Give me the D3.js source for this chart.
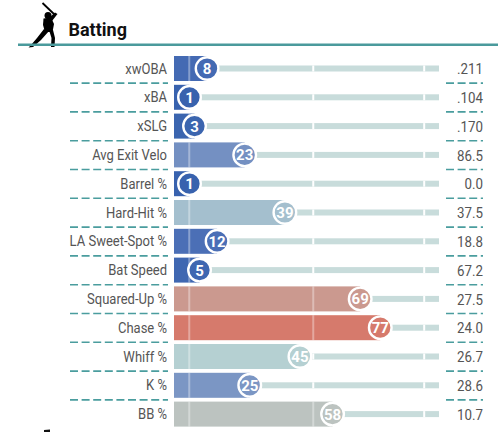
<!DOCTYPE html>
<html>
<head>
<meta charset="utf-8">
<script src="https://cdn.jsdelivr.net/npm/d3@7"></script>
<style>
  body { margin: 0; background: #fff; }
  svg { display: block; font-family: Roboto, "Noto Sans", sans-serif; }
</style>
</head>
<body>
<svg id="chart" width="498" height="432"></svg>
<script>
// stat names, percentile ranks and raw values (top to bottom)
var labels = ['xwOBA', 'xBA', 'xSLG', 'Avg Exit Velo', 'Barrel %', 'Hard-Hit %',
    'LA Sweet-Spot %', 'Bat Speed', 'Squared-Up %', 'Chase %', 'Whiff %', 'K %', 'BB %'];
var percentiles = [8, 1, 3, 23, 1, 39, 12, 5, 69, 77, 45, 25, 58];
var values = ['.211', '.104', '.170', '86.5', '0.0', '37.5', '18.8', '67.2',
    '27.5', '24.0', '26.7', '28.6', '10.7'];
var title = 'Batting';

var rows = labels.map(function(l, i) {
    return {label: l, pct: percentiles[i], value: values[i]};
});

var svg = d3.select('#chart');

var x = d3.scaleLinear().domain([0, 100]).range([187, 438]);
var y = d3.scalePoint().domain(labels).range([68.5, 414.1]);

var color = d3.scaleLinear()
    .domain([0, 12, 25, 45, 58, 77, 100])
    .range(['#3661ad', '#4b6fb6', '#7b96c4', '#b5d0d2', '#bcc3c0', '#d67a6c', '#d82129']);

var barH = 25;
var barX0 = x(0) - 13;
var trackEnd = x(100) + 1;

// header icon (batter silhouette)
var icon = svg.append('g').attr('fill', '#000');
icon.append('line')
    .attr('x1', 42.5).attr('y1', 3).attr('x2', 55).attr('y2', 15)
    .attr('stroke', '#000').attr('stroke-width', 1.8);
icon.append('circle').attr('cx', 48).attr('cy', 15.5).attr('r', 3.5);
icon.append('path').attr('d', 'M49,18 L55,12.5 L57.5,14 L52,21 Z');
icon.append('path').attr('d', 'M43.5,18.5 L51,17.5 L54,24 L52.5,32 L45,32 L43,25 Z');
icon.append('path').attr('d', 'M44,29 L49,31 L41,40 L33,47 L28.5,47.5 L31,45 L37,38 Z');
icon.append('path').attr('d', 'M49,30 L53,30 L55,38 L54.5,47 L51,47 L51.5,38 Z');

svg.append('text')
    .attr('x', 68.5).attr('y', 36)
    .attr('font-size', 18).attr('font-weight', 700)
    .attr('fill', '#111')
    .text(title);

svg.append('line')
    .attr('x1', 18).attr('x2', 498).attr('y1', 44.7).attr('y2', 44.7)
    .attr('stroke', '#4a9a9c').attr('stroke-width', 2.5);

// dashed separators
var seps = rows.slice(0, rows.length - 1);
[[70, 168], [446, 483]].forEach(function(span) {
    svg.selectAll(null)
        .data(seps)
        .enter()
        .append('line')
        .attr('x1', span[0]).attr('x2', span[1])
        .attr('y1', function(d) { return y(d.label) + 14.6; })
        .attr('y2', function(d) { return y(d.label) + 14.6; })
        .attr('stroke', '#4a9d9e')
        .attr('stroke-width', 1.6)
        .attr('stroke-dasharray', '8,3.6');
});

var row = svg.selectAll('.row')
    .data(rows)
    .enter()
    .append('g')
    .attr('class', 'row')
    .attr('transform', function(d) { return 'translate(0,' + y(d.label) + ')'; });

// track
row.append('rect')
    .attr('x', barX0).attr('y', -3)
    .attr('width', trackEnd - barX0).attr('height', 6)
    .attr('fill', '#c8dcdb');

// bar
row.append('rect')
    .attr('x', barX0).attr('y', -barH / 2)
    .attr('width', function(d) { return x(d.pct) - barX0; })
    .attr('height', barH)
    .attr('fill', function(d) { return color(d.pct); });

// light guide lines
[0.9, 50.3, 94.5].forEach(function(p) {
    row.append('rect')
        .attr('x', x(p) - 1).attr('y', -barH / 2)
        .attr('width', 2)
        .attr('height', barH)
        .attr('fill', '#fff')
        .attr('opacity', function(d) { return x(d.pct) > x(p) ? 0.35 : 0; });
    row.append('rect')
        .attr('x', x(p) - 1).attr('y', -3)
        .attr('width', 2).attr('height', 6)
        .attr('fill', '#fff')
        .attr('opacity', function(d) { return x(d.pct) > x(p) ? 0 : 1; });
});

// circle with rank
row.append('circle')
    .attr('cx', function(d) { return x(d.pct); })
    .attr('cy', 0)
    .attr('r', 11.3)
    .attr('fill', function(d) { return color(d.pct); })
    .attr('stroke', '#fff')
    .attr('stroke-width', 2.4);

row.append('text')
    .attr('transform', function(d) { return 'translate(' + x(d.pct) + ',5.4)'; })
    .attr('text-anchor', 'middle')
    .attr('font-size', 15)
    .attr('font-weight', 700)
    .attr('fill', '#fff')
    .text(function(d) { return d.pct; });

// stat label
row.append('text')
    .attr('transform', 'translate(167,5) scale(0.93,1)')
    .attr('text-anchor', 'end')
    .attr('font-size', 14)
    .attr('fill', '#555')
    .text(function(d) { return d.label; });

// raw value
row.append('text')
    .attr('transform', 'translate(483,5.6) scale(0.86,1)')
    .attr('text-anchor', 'end')
    .attr('font-size', 15.5)
    .attr('fill', '#555')
    .text(function(d) { return d.value; });

// top of the next section's icon
svg.append('path').attr('d', 'M44,430 L50,429.5 L50,432 L44,432 Z').attr('fill', '#111');
</script>
</body>
</html>
